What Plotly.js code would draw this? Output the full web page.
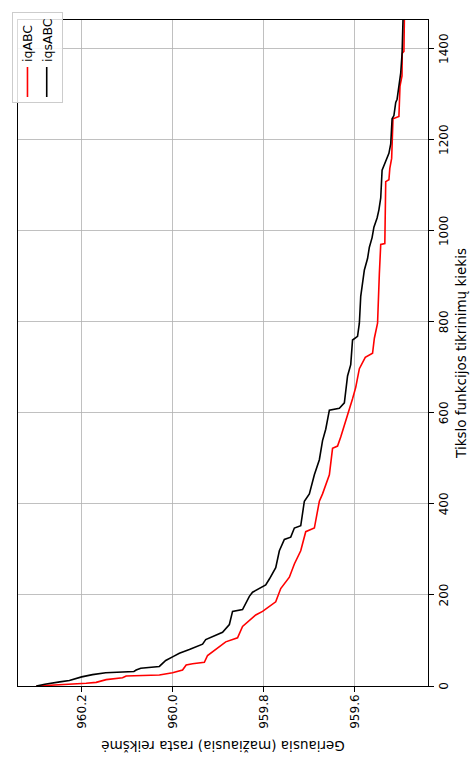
<!DOCTYPE html>
<html>
<head>
<meta charset="utf-8">
<script src="https://cdn.plot.ly/plotly-3.0.1.min.js"></script>
<style>
  html, body { margin: 0; padding: 0; overflow: hidden; background: #ffffff; width: 470px; height: 765px; }
  #wrap { position: absolute; left: 0; top: 0; width: 765px; height: 470px;
          transform-origin: 0 0; transform: translateY(765px) rotate(-90deg); }
  #chart { width: 765px; height: 470px; }
</style>
</head>
<body>
<div id="wrap"><div id="chart"></div></div>
<script>
// Series names
const seriesNames = ["iqABC", "iqsABC"];

// iqABC (red): evaluations count and best value found
const iqEvals = [0, 2, 6, 8, 14, 18, 22, 24, 29, 35, 46, 49, 52, 67, 72, 85, 97, 106, 131, 156, 164, 185, 214, 239, 268, 297, 339, 347, 406, 422, 464, 522, 527, 547, 572, 597, 631, 656, 697, 722, 731, 764, 797, 906, 970, 972, 1108, 1112, 1137, 1159, 1209, 1246, 1251, 1318, 1340, 1390, 1394, 1463];
const iqBest = [960.2997, 960.25, 960.19, 960.168, 960.146, 960.11, 960.102, 960.029, 960.000, 959.978, 959.970, 959.956, 959.930, 959.923, 959.916, 959.897, 959.883, 959.857, 959.846, 959.817, 959.802, 959.773, 959.762, 959.743, 959.732, 959.718, 959.707, 959.688, 959.677, 959.670, 959.655, 959.648, 959.637, 959.630, 959.622, 959.615, 959.604, 959.597, 959.589, 959.576, 959.560, 959.556, 959.549, 959.545, 959.542, 959.533, 959.531, 959.524, 959.522, 959.518, 959.517, 959.515, 959.502, 959.4996, 959.4952, 959.4947, 959.491, 959.490];

// iqsABC (black)
const iqsEvals = [0, 4, 9, 12, 20, 25, 29, 32, 35, 39, 43, 56, 64, 72, 80, 92, 102, 110, 118, 135, 164, 168, 197, 206, 214, 222, 235, 260, 297, 322, 327, 347, 352, 406, 422, 464, 497, 539, 564, 606, 610, 622, 681, 706, 760, 768, 797, 856, 914, 939, 964, 985, 1008, 1028, 1046, 1072, 1133, 1148, 1170, 1191, 1246, 1253, 1282, 1289, 1347, 1390, 1463];
const iqsBest = [960.2997, 960.281, 960.248, 960.227, 960.200, 960.176, 960.147, 960.085, 960.080, 960.070, 960.029, 960.015, 960.000, 959.985, 959.963, 959.934, 959.927, 959.908, 959.890, 959.875, 959.868, 959.846, 959.831, 959.824, 959.809, 959.795, 959.787, 959.773, 959.765, 959.754, 959.740, 959.732, 959.718, 959.710, 959.699, 959.688, 959.677, 959.670, 959.663, 959.655, 959.633, 959.622, 959.615, 959.608, 959.604, 959.593, 959.589, 959.586, 959.578, 959.571, 959.567, 959.561, 959.557, 959.550, 959.546, 959.542, 959.539, 959.533, 959.524, 959.520, 959.517, 959.513, 959.509, 959.506, 959.498, 959.495, 959.493];

// Axis ticks
const xTicks = [0, 200, 400, 600, 800, 1000, 1200, 1400];
const yTicks = [959.6, 959.8, 960.0, 960.2];
const yTickText = ["959.6", "959.8", "960.0", "960.2"];

const xTitle = "Tikslo funkcijos tikrinimų kiekis";
const yTitle = "Geriausia (mažiausia) rasta reikšmė";

const font = "DejaVu Sans, sans-serif";

const traces = [
  { x: iqEvals, y: iqBest, name: seriesNames[0], mode: "lines",
    line: { color: "#ff0000", width: 1.6 } },
  { x: iqsEvals, y: iqsBest, name: seriesNames[1], mode: "lines",
    line: { color: "#000000", width: 1.6 } }
];

const layout = {
  width: 765, height: 470,
  paper_bgcolor: "#ffffff", plot_bgcolor: "#ffffff",
  margin: { l: 79, r: 13, t: 18, b: 42 },
  font: { family: font, size: 12, color: "#000000" },
  showlegend: true,
  legend: {
    x: 1.012, xanchor: "right", y: 1.015, yanchor: "top",
    bgcolor: "rgba(255,255,255,0.85)", bordercolor: "#cccccc", borderwidth: 1,
    font: { family: font, size: 12.5, color: "#000000" },
    traceorder: "normal", tracegroupgap: 0
  },
  xaxis: {
    range: [0, 1463], tickvals: xTicks, ticks: "outside", ticklen: 5, tickwidth: 1,
    tickcolor: "#000000", showline: true, mirror: true, linecolor: "#000000", linewidth: 1,
    showgrid: true, gridcolor: "#b0b0b0", gridwidth: 0.8, zeroline: false,
    tickfont: { family: font, size: 12 },
    title: { text: xTitle, font: { family: font, size: 13.5 }, standoff: 6 }
  },
  yaxis: {
    range: [959.438, 960.340], tickvals: yTicks, ticktext: yTickText, ticks: "outside", ticklen: 5, tickwidth: 1,
    tickcolor: "#000000", showline: true, mirror: true, linecolor: "#000000", linewidth: 1,
    showgrid: true, gridcolor: "#b0b0b0", gridwidth: 0.8, zeroline: false,
    tickfont: { family: font, size: 12 },
    title: { text: yTitle, font: { family: font, size: 13.5 }, standoff: 8 }
  }
};

Plotly.newPlot("chart", traces, layout, { staticPlot: true, displayModeBar: false });
</script>
</body>
</html>
